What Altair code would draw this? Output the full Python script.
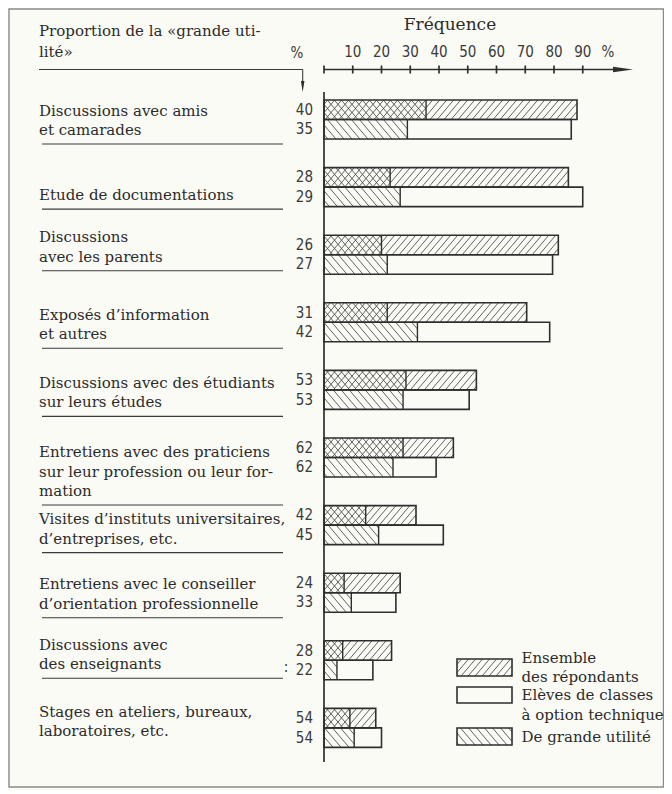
import math
import altair as alt
import pandas as pd

# ------------------------------------------------------------------ data
labels = [
    ["Discussions avec amis", "et camarades"],
    ["Etude de documentations"],
    ["Discussions", "avec les parents"],
    ["Exposés d’information", "et autres"],
    ["Discussions avec des étudiants", "sur leurs études"],
    ["Entretiens avec des praticiens", "sur leur profession ou leur for-", "mation"],
    ["Visites d’instituts universitaires,", "d’entreprises, etc."],
    ["Entretiens avec le conseiller", "d’orientation professionnelle"],
    ["Discussions avec", "des enseignants"],
    ["Stages en ateliers, bureaux,", "laboratoires, etc."],
]
pct_ensemble = [40, 28, 26, 31, 53, 62, 42, 24, 28, 54]
pct_technique = [35, 29, 27, 42, 53, 62, 45, 33, 22, 54]
freq_ensemble = [88, 85, 81.5, 70.5, 53, 45, 32, 26.5, 23.5, 18]
freq_technique = [86, 90, 79.5, 78.5, 50.5, 39, 41.5, 25, 17, 20]
hi_ensemble = [35.5, 23, 20, 22, 28.5, 27.5, 14.5, 7, 6.5, 9]
hi_technique = [29, 26.5, 22, 32.5, 27.5, 24, 19, 9.5, 4.5, 10.5]
tick_values = [10, 20, 30, 40, 50, 60, 70, 80, 90]
legend_labels = [["Ensemble", "des répondants"],
                 ["Elèves de classes", "à option technique"],
                 ["De grande utilité"]]
header_lines = ["Proportion de la «grande uti-", "lité»"]
axis_title = "Fréquence"

# ------------------------------------------------------------------ layout
X0, XS = 324.0, 2.875      # screen x of 0 %, pixels per %
Y0, YS = 92.0, 67.6        # screen y of row 0, pixels per row
ROW_TOP = 100.0            # first bar top (screen)
BAR_H = 19.5
label_dy = [10.5, 27.5, 2, 12, 12.5, 14, 13.5, 11, 4, 3.5]
LINE_H = 19.5

def ux(px):
    return (px - X0) / XS

def uy(py):
    return (py - Y0) / YS

SERIF = "DejaVu Serif"
NUMF = "DejaVu Sans Condensed, DejaVu Sans"
INK = "#2b2b2b"
BG = "#fbfbf6"

xsc = alt.Scale(domain=[0, 100], nice=False, zero=False)
ysc = alt.Scale(domain=[0, 10], reverse=True, nice=False, zero=False)

def X(f="x"):
    return alt.X(f + ":Q", scale=xsc, axis=None)

def Y(f="y"):
    return alt.Y(f + ":Q", scale=ysc, axis=None)


def hatch(x0, x1, r0, r1, direction, s, m=0.85):
    """diagonal hatch segments (data units) clipped to a rectangle"""
    X0p, X1p = x0 * XS, x1 * XS
    Y0p, Y1p = r0 * YS, r1 * YS
    out = []
    if direction == "/":
        cmin, cmax = X0p + m * Y0p, X1p + m * Y1p
    else:
        cmin, cmax = X0p - m * Y1p, X1p - m * Y0p
    c = math.floor(cmin / s) * s + s * 0.5
    while c < cmax:
        if direction == "/":
            xa = max(X0p, c - m * Y1p)
            xb = min(X1p, c - m * Y0p)
            ya, yb = (c - xa) / m, (c - xb) / m
        else:
            xa = max(X0p, c + m * Y0p)
            xb = min(X1p, c + m * Y1p)
            ya, yb = (xa - c) / m, (xb - c) / m
        if xb - xa > 0.4:
            out.append({"x": xa / XS, "x2": xb / XS, "y": ya / YS, "y2": yb / YS})
        c += s
    return out

# bars ------------------------------------------------------------
bars, dividers, hatches, nums = [], [], [], []
for i in range(len(labels)):
    t_e = uy(ROW_TOP + i * YS)
    b_e = t_e + BAR_H / YS
    b_t = b_e + BAR_H / YS
    bars.append({"x": 0, "x2": freq_ensemble[i], "y": t_e, "y2": b_e})
    bars.append({"x": 0, "x2": freq_technique[i], "y": b_e, "y2": b_t})
    dividers.append({"x": hi_ensemble[i], "y": t_e, "y2": b_e})
    dividers.append({"x": hi_technique[i], "y": b_e, "y2": b_t})
    hatches += hatch(0, freq_ensemble[i], t_e, b_e, "/", 7)
    hatches += hatch(0, hi_ensemble[i], t_e, b_e, "\\", 7)
    hatches += hatch(0, hi_technique[i], b_e, b_t, "\\", 8)
    nums.append({"x": ux(313), "y": (t_e + b_e) / 2, "text": str(pct_ensemble[i])})
    nums.append({"x": ux(313), "y": (b_e + b_t) / 2, "text": str(pct_technique[i])})

# legend swatches
sw = [(659, 676), (687, 703), (728, 745)]
sx0, sx1 = ux(457), ux(512)
for k, (a, b) in enumerate(sw):
    bars.append({"x": sx0, "x2": sx1, "y": uy(a), "y2": uy(b)})
hatches += hatch(sx0, sx1, uy(sw[0][0]), uy(sw[0][1]), "/", 7)
hatches += hatch(sx0, sx1, uy(sw[2][0]), uy(sw[2][1]), "\\", 8)

# left labels + underlines
lab_rows, ulines = [], []
for i, lines in enumerate(labels):
    top = ROW_TOP + i * YS + label_dy[i]
    for j, ln in enumerate(lines):
        lab_rows.append({"x": ux(39), "y": uy(top + j * LINE_H), "text": ln})
    if i < len(labels) - 1:
        yy = uy(top + (len(lines) - 1) * LINE_H + 14)
        ulines.append({"x": ux(42), "x2": ux(283), "y": yy, "y2": yy})

# header
lab_rows.append({"x": ux(39), "y": uy(31), "text": header_lines[0]})
lab_rows.append({"x": ux(39), "y": uy(52), "text": header_lines[1]})
ulines.append({"x": ux(39), "x2": ux(302.7), "y": uy(69.5), "y2": uy(69.5)})
ulines.append({"x": ux(302.7), "x2": ux(302.7), "y": uy(69.5), "y2": uy(84)})

# legend texts
leg_rows = []
leg_y = [[658, 677], [695, 715], [737]]
for k, lines in enumerate(legend_labels):
    for j, ln in enumerate(lines):
        leg_rows.append({"x": ux(521.5), "y": uy(leg_y[k][j]), "text": ln})

# axes
AX_Y = uy(69.5)
axes = [
    {"x": 0, "x2": 0, "y": 0, "y2": uy(762)},
    {"x": 0, "x2": ux(616), "y": AX_Y, "y2": AX_Y},
]
for t in [0] + tick_values:
    axes.append({"x": t, "x2": t, "y": uy(65.5), "y2": uy(73.5)})
tick_txt = [{"x": t, "y": uy(52), "text": str(t)} for t in tick_values]
tick_txt.append({"x": ux(608), "y": uy(52), "text": "%"})
tick_txt.append({"x": ux(297), "y": uy(53), "text": "%"})
tick_txt.append({"x": ux(286), "y": uy(667), "text": ":"})

frame = pd.DataFrame([{"x": ux(9), "x2": ux(663.5), "y": uy(9), "y2": uy(787)}])

# ------------------------------------------------------------------ chart
frame_l = alt.Chart(frame).mark_rect(fill=BG, stroke="#8a8a8a", strokeWidth=1.4).encode(
    x=X(), x2="x2:Q", y=Y(), y2="y2:Q")

hatch_l = alt.Chart(pd.DataFrame(hatches)).mark_rule(color="#444444", strokeWidth=0.85).encode(
    x=X(), x2="x2:Q", y=Y(), y2="y2:Q")

bar_l = alt.Chart(pd.DataFrame(bars)).mark_rect(fill=None, stroke="#2e2e2e", strokeWidth=1.6).encode(
    x=X(), x2="x2:Q", y=Y(), y2="y2:Q")

div_l = alt.Chart(pd.DataFrame(dividers)).mark_rule(color="#2e2e2e", strokeWidth=1.4).encode(
    x=X(), y=Y(), y2="y2:Q")

axis_l = alt.Chart(pd.DataFrame(axes)).mark_rule(color="#2e2e2e", strokeWidth=1.7).encode(
    x=X(), x2="x2:Q", y=Y(), y2="y2:Q")

uline_l = alt.Chart(pd.DataFrame(ulines)).mark_rule(color="#3a3a3a", strokeWidth=1.1).encode(
    x=X(), x2="x2:Q", y=Y(), y2="y2:Q")

arrow_r = alt.Chart(pd.DataFrame([{"x": ux(623), "y": AX_Y}])).mark_point(
    shape="M-1,-0.28L1,0L-1,0.28Z", size=400, filled=True, color="#2e2e2e", opacity=1
).encode(x=X(), y=Y())

arrow_d = alt.Chart(pd.DataFrame([{"x": ux(302.7), "y": uy(86.5)}])).mark_point(
    shape="M-0.32,-1L0,1L0.32,-1Z", size=121, filled=True, color="#2e2e2e", opacity=1
).encode(x=X(), y=Y())

lab_l = alt.Chart(pd.DataFrame(lab_rows)).mark_text(
    align="left", baseline="middle", font=SERIF, fontSize=15, color=INK
).encode(x=X(), y=Y(), text="text:N")

leg_l = alt.Chart(pd.DataFrame(leg_rows)).mark_text(
    align="left", baseline="middle", font=SERIF, fontSize=15, color=INK
).encode(x=X(), y=Y(), text="text:N")

num_l = alt.Chart(pd.DataFrame(nums)).mark_text(
    align="right", baseline="middle", font=NUMF, fontSize=15, color="#3a3a3a"
).encode(x=X(), y=Y(), text="text:N")

tick_l = alt.Chart(pd.DataFrame(tick_txt)).mark_text(
    align="center", baseline="middle", font=NUMF, fontSize=15, color="#3a3a3a"
).encode(x=X(), y=Y(), text="text:N")

title_l = alt.Chart(pd.DataFrame([{"x": ux(450), "y": uy(25), "text": axis_title}])).mark_text(
    align="center", baseline="middle", font=SERIF, fontSize=17, color=INK
).encode(x=X(), y=Y(), text="text:N")

chart = alt.layer(
    frame_l, hatch_l, bar_l, div_l, axis_l, uline_l, arrow_r, arrow_d,
    lab_l, leg_l, num_l, tick_l, title_l
).properties(
    width=100 * XS,
    height=10 * YS,
    padding={"left": X0 - 8, "top": Y0 - 8, "right": 656 - (X0 - 8) - 100 * XS, "bottom": 22},
    autosize=alt.AutoSizeParams(type="none"),
    background=BG,
).configure_view(stroke=None)

chart.save("out.html", embed_options={"renderer": "svg", "actions": False})
